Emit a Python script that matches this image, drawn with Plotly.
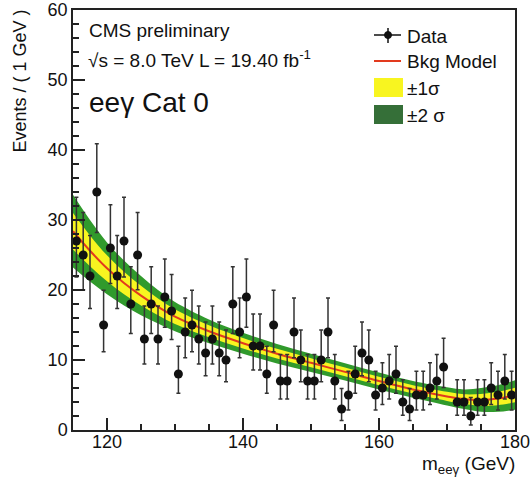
import numpy as np
import plotly.graph_objects as go

# ---- data ----
bin_centers = [115.5 + i for i in range(65)]
counts = [27, 25, 22, 34, 15, 26, 22, 27, 18, 25,
          13, 18, 13, 19, 17, 8, 14, 15, 13, 11,
          13, 11, 10, 18, 14, 19, 12, 12, 8, 15,
          7, 7, 14, 10, 7, 7, 10, 14, 7, 3,
          5, 8, 11, 10, 5, 6, 7, 8, 4, 3,
          5, 5, 6, 7, 9, None, 4, 4, 2, 4,
          4, 6, 5, 7, 5]

model_x = [115, 117.5, 120, 122.5, 125, 127.5, 130, 135, 140, 145, 150,
           155, 160, 165, 170, 172.5, 175, 177.5, 180]
model_center = [28.4, 25.6, 23.1, 21.0, 19.2, 17.6, 16.2, 14.1, 12.4, 10.9, 9.6,
                8.3, 7.0, 5.8, 4.8, 4.4, 4.3, 4.5, 5.0]
model_sigma1 = [2.6, 2.2, 1.85, 1.6, 1.4, 1.2, 1.05, 0.85, 0.75, 0.7, 0.65,
                0.62, 0.6, 0.6, 0.65, 0.7, 0.85, 0.95, 1.05]

# Poisson (Gehrels) asymmetric errors derived from the counts
n = np.array([c if c is not None else 0 for c in counts], dtype=float)
err_up = np.sqrt(n + 0.75) + 1.0
nn = np.maximum(n, 1)
low = np.where(n > 0, n * (1 - 1 / (9 * nn) - 1 / (3 * np.sqrt(nn))) ** 3, 0)
err_dn = n - low

c = np.array(model_center)
s = np.array(model_sigma1)

GREEN = '#309a2c'
YELLOW = '#f8f520'
RED = '#e23a1e'
FONT = 'Liberation Sans, Arial, sans-serif'

TOP = 10
BOT = 430

fig = go.Figure()
# 2 sigma band
fig.add_trace(go.Scatter(x=model_x, y=c - 2 * s, mode='lines', line=dict(width=0, shape='spline', color=GREEN),
                         showlegend=False, hoverinfo='skip'))
fig.add_trace(go.Scatter(x=model_x, y=c + 2 * s, mode='lines', line=dict(width=0, shape='spline', color=GREEN),
                         fill='tonexty', fillcolor=GREEN, showlegend=False, hoverinfo='skip'))
# 1 sigma band
fig.add_trace(go.Scatter(x=model_x, y=c - s, mode='lines', line=dict(width=0, shape='spline', color=YELLOW),
                         showlegend=False, hoverinfo='skip'))
fig.add_trace(go.Scatter(x=model_x, y=c + s, mode='lines', line=dict(width=0, shape='spline', color=YELLOW),
                         fill='tonexty', fillcolor=YELLOW, showlegend=False, hoverinfo='skip'))
# model line
fig.add_trace(go.Scatter(x=model_x, y=model_center, mode='lines', line=dict(width=2, shape='spline', color=RED),
                         showlegend=False, hoverinfo='skip'))
# data
fig.add_trace(go.Scatter(x=bin_centers, y=counts, mode='markers',
                         marker=dict(size=9, color='#111111'),
                         error_y=dict(type='data', symmetric=False, array=err_up, arrayminus=err_dn,
                                      color='#333333', thickness=1.5, width=2),
                         showlegend=False))

def px(xp):
    return (xp - 73) / 442.0

def py(yp):
    return (BOT - yp) / float(BOT - TOP)

annotations = [
    dict(text='Events / ( 1 GeV )', x=-0.12, y=py(7), xref='paper', yref='paper', textangle=-90,
         xanchor='center', yanchor='top', showarrow=False, font=dict(size=18, color='#111', family=FONT)),
    dict(text='m<sub>eeγ</sub> (GeV)', x=1.005, y=py(465), xref='paper', yref='paper',
         xanchor='right', yanchor='middle', showarrow=False, font=dict(size=19, color='#111', family=FONT)),
    dict(text='CMS preliminary', x=px(87), y=py(30), xref='paper', yref='paper',
         xanchor='left', yanchor='middle', showarrow=False, font=dict(size=19, color='#111', family=FONT)),
    dict(text='√s = 8.0 TeV L = 19.40 fb<sup>-1</sup>', x=px(86), y=py(59), xref='paper', yref='paper',
         xanchor='left', yanchor='middle', showarrow=False, font=dict(size=19, color='#111', family=FONT)),
    dict(text='eeγ Cat 0', x=px(87), y=py(102), xref='paper', yref='paper',
         xanchor='left', yanchor='middle', showarrow=False, font=dict(size=28, color='#111', family=FONT)),
    dict(text='Data', x=px(405), y=py(36), xref='paper', yref='paper',
         xanchor='left', yanchor='middle', showarrow=False, font=dict(size=19, color='#111', family=FONT)),
    dict(text='Bkg Model', x=px(405), y=py(61), xref='paper', yref='paper',
         xanchor='left', yanchor='middle', showarrow=False, font=dict(size=19, color='#111', family=FONT)),
    dict(text='±1σ', x=px(405), y=py(88), xref='paper', yref='paper',
         xanchor='left', yanchor='middle', showarrow=False, font=dict(size=19, color='#111', family=FONT)),
    dict(text='±2 σ', x=px(405), y=py(115), xref='paper', yref='paper',
         xanchor='left', yanchor='middle', showarrow=False, font=dict(size=19, color='#111', family=FONT)),
]

shapes = [
    # Data legend symbol
    dict(type='line', xref='paper', yref='paper', x0=px(374), x1=px(401), y0=py(35), y1=py(35),
         line=dict(color='#111', width=1.5)),
    dict(type='line', xref='paper', yref='paper', x0=px(388), x1=px(388), y0=py(28), y1=py(43),
         line=dict(color='#111', width=1.5)),
    dict(type='circle', xref='paper', yref='paper', x0=px(384.5), x1=px(391.5), y0=py(31.5), y1=py(38.5),
         fillcolor='#111', line=dict(color='#111', width=1)),
    # Bkg model legend
    dict(type='line', xref='paper', yref='paper', x0=px(374), x1=px(401), y0=py(61), y1=py(61),
         line=dict(color=RED, width=2)),
    # band legend boxes
    dict(type='rect', xref='paper', yref='paper', x0=px(374), x1=px(403), y0=py(78), y1=py(97),
         fillcolor=YELLOW, line=dict(width=0)),
    dict(type='rect', xref='paper', yref='paper', x0=px(374), x1=px(403), y0=py(105), y1=py(124),
         fillcolor='#356f38', line=dict(width=0)),
]

fig.update_layout(
    width=532, height=479,
    margin=dict(l=73, r=17, t=TOP, b=479 - BOT, autoexpand=False),
    paper_bgcolor='white', plot_bgcolor='white',
    font=dict(family=FONT, color='#111', size=17),
    annotations=annotations, shapes=shapes,
    showlegend=False,
)
fig.update_xaxes(range=[115, 180], showgrid=False, zeroline=False, automargin=False,
                 ticklabeloverflow='allow', ticklabelstandoff=-5,
                 showline=True, linecolor='#222', linewidth=1.5, mirror=True,
                 ticks='inside', ticklen=12, tickwidth=1.5, tickcolor='#222', dtick=20, tick0=0,
                 minor=dict(ticks='inside', ticklen=6, dtick=5, tick0=0, tickcolor='#222', tickwidth=1.5),
                 tickfont=dict(size=18, family=FONT, color='#111'))
fig.update_yaxes(range=[0, 60], showgrid=False, zeroline=False, automargin=False,
                 ticklabeloverflow='allow',
                 showline=True, linecolor='#222', linewidth=1.5, mirror=True,
                 ticks='inside', ticklen=12, tickwidth=1.5, tickcolor='#222', dtick=10, tick0=0,
                 minor=dict(ticks='inside', ticklen=6, dtick=2, tick0=0, tickcolor='#222', tickwidth=1.5),
                 tickfont=dict(size=18, family=FONT, color='#111'))

fig.write_html('out.html')
